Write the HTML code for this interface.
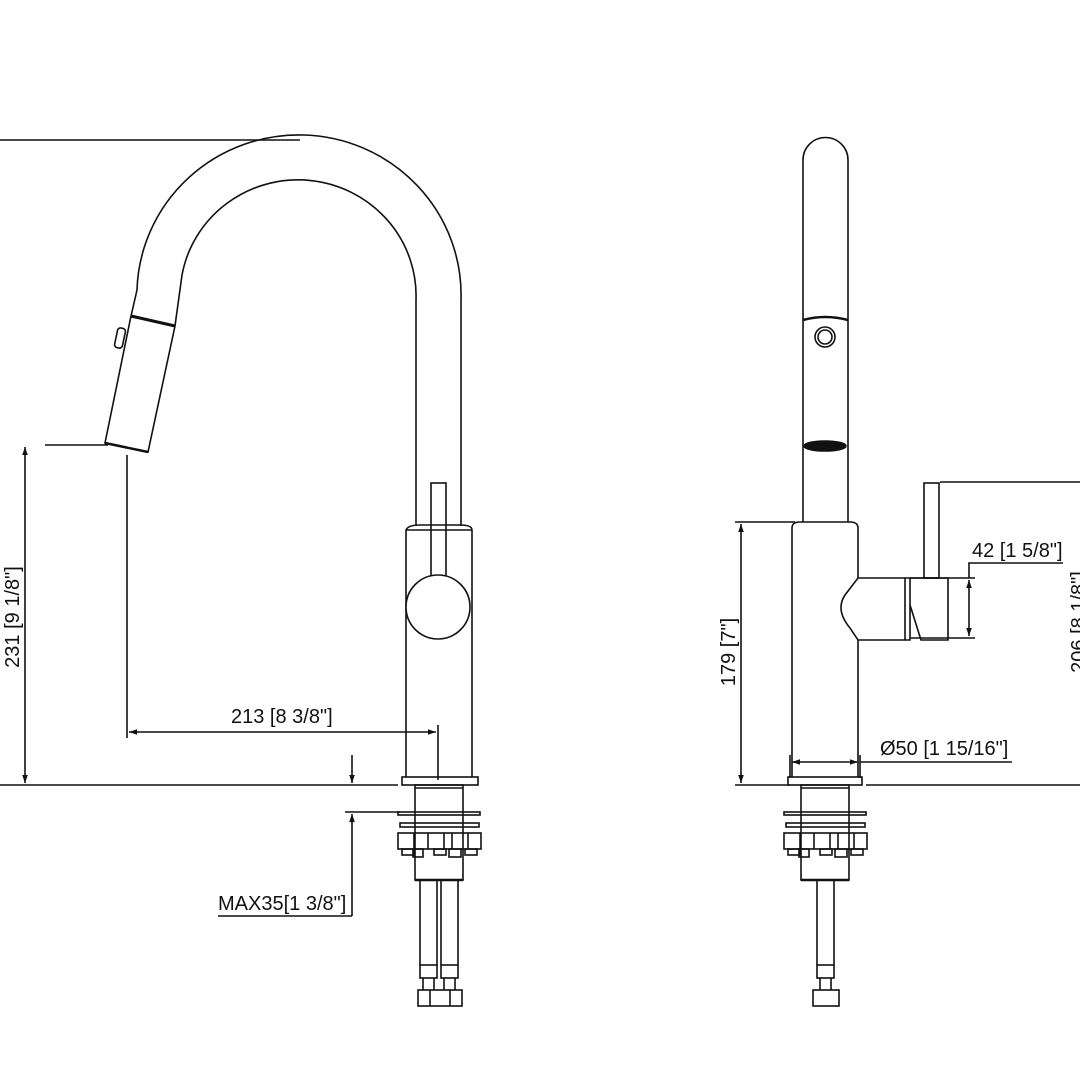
<!DOCTYPE html><html><head><style>body{margin:0;background:#fff}svg{display:block}text{font-family:"Liberation Sans",sans-serif;font-size:20px;fill:#111}</style></head><body>
<svg width="1080" height="1080" viewBox="0 0 1080 1080" fill="none" stroke="#111" stroke-width="1.6">
<defs><marker id="a" viewBox="0 0 10 10" refX="10" refY="5" markerWidth="12" markerHeight="8" orient="auto-start-reverse" markerUnits="userSpaceOnUse"><path d="M0,1.5 L10,5 L0,8.5z" fill="#111" stroke="none"/></marker></defs>
<path d="M461,526 V300 A162,160 0 0 0 137,290 L131,316"/>
<path d="M416,526 V300 A118,116 0 0 0 182,275 L175,326"/>
<path d="M131,316 L105,443 L148,452 L175,326"/>
<path d="M131,316 L175,326" stroke-width="3"/>
<path d="M105,443 L148,452" stroke-width="2.5"/>
<rect x="116" y="328" width="8" height="20" rx="3" transform="rotate(12 120 338)"/>
<path d="M406,777 V530 Q408,525 420,525 H460 Q472,525 472,530 V777"/>
<path d="M406,530 H472"/>
<rect x="431" y="483" width="15" height="93"/>
<circle cx="438" cy="607" r="32" fill="#fff"/>
<rect x="402" y="777" width="76" height="8"/>
<g id="base">
<rect x="415" y="785" width="48" height="95"/>
<path d="M415,788 H463"/>
<rect x="398" y="812" width="82" height="3"/>
<rect x="400" y="823" width="79" height="4"/>
<rect x="398" y="833" width="83" height="16"/>
<path d="M414,833 V849 M428,833 V849 M444,833 V849 M452,833 V849 M468,833 V849"/>
<rect x="402" y="849" width="12" height="6"/><rect x="413" y="849" width="10" height="8"/><rect x="434" y="849" width="12" height="6"/><rect x="449" y="849" width="12" height="8"/><rect x="465" y="849" width="12" height="6"/>
<path d="M415,880 H463" stroke-width="2.5"/>
</g>
<path d="M420,880 V965 M437,880 V965 M441,880 V965 M458,880 V965"/>
<rect x="420" y="965" width="17" height="13"/><rect x="441" y="965" width="17" height="13"/>
<path d="M423,978 V990 M434,978 V990 M444,978 V990 M455,978 V990"/>
<rect x="418" y="990" width="44" height="16"/><path d="M430,990 V1006 M450,990 V1006"/>
<path d="M0,140 H300"/>
<path d="M45,445 H108"/>
<path d="M0,785 H398"/>
<path d="M25,447 V783" marker-start="url(#a)" marker-end="url(#a)"/>
<path d="M127,455 V738"/>
<path d="M438,725 V780"/>
<path d="M129,732 H436" marker-start="url(#a)" marker-end="url(#a)"/>
<path d="M345,812 H400"/>
<path d="M352,755 V783" marker-end="url(#a)"/>
<path d="M352,916 V814" marker-end="url(#a)"/>
<path d="M218,916 H352"/>
<g stroke="none">
<text x="231" y="723">213 [8 3/8"]</text>
<text x="218" y="910">MAX35[1 3/8"]</text>
<text transform="translate(19,617) rotate(-90)" text-anchor="middle">231 [9 1/8"]</text>
<text transform="translate(735,652) rotate(-90)" text-anchor="middle">179 [7"]</text>
<text transform="translate(1085,622) rotate(-90)" text-anchor="middle">206 [8 1/8"]</text>
<text x="880" y="755">Ø50 [1 15/16"]</text>
<text x="972" y="557">42 [1 5/8"]</text>
</g>
<path d="M803,522 V160 A22.5,22.5 0 0 1 848,160 V522"/>
<path d="M803,320 Q825,314 848,320" stroke-width="2.5"/>
<circle cx="825" cy="337" r="10"/><circle cx="825" cy="337" r="7"/>
<ellipse cx="825" cy="446" rx="21" ry="5" fill="#111"/>
<path d="M792,777 V528 Q792,522 800,522 H850 Q858,522 858,528 V578 M858,640 V777"/>
<path d="M858,578 H905 V640 H858 L850,628 Q835,610 845,595 Z"/>
<path d="M905,578 L910,578 V640 L905,640"/>
<path d="M910,578 H948 V640 H921 L910,605"/>
<rect x="924" y="483" width="15" height="95"/>
<rect x="788" y="777" width="74" height="8"/>
<use href="#base" transform="translate(386,0)"/>
<path d="M817,880 V965 M834,880 V965"/>
<rect x="817" y="965" width="17" height="13"/><path d="M820,978 V990 M831,978 V990"/>
<rect x="813" y="990" width="26" height="16"/>
<path d="M735,522 H795"/>
<path d="M741,524 V783" marker-start="url(#a)" marker-end="url(#a)"/>
<path d="M735,785 H790 M866,785 H1080"/>
<path d="M940,482 H1080"/>
<path d="M790,755 V778 M860,755 V778"/>
<path d="M792,762 H858" marker-start="url(#a)" marker-end="url(#a)"/>
<path d="M860,762 H1012"/>
<path d="M910,578 H975 M910,638 H975"/>
<path d="M969,580 V636" marker-start="url(#a)" marker-end="url(#a)"/>
<path d="M969,578 V563 H1063"/>
</svg></body></html>
